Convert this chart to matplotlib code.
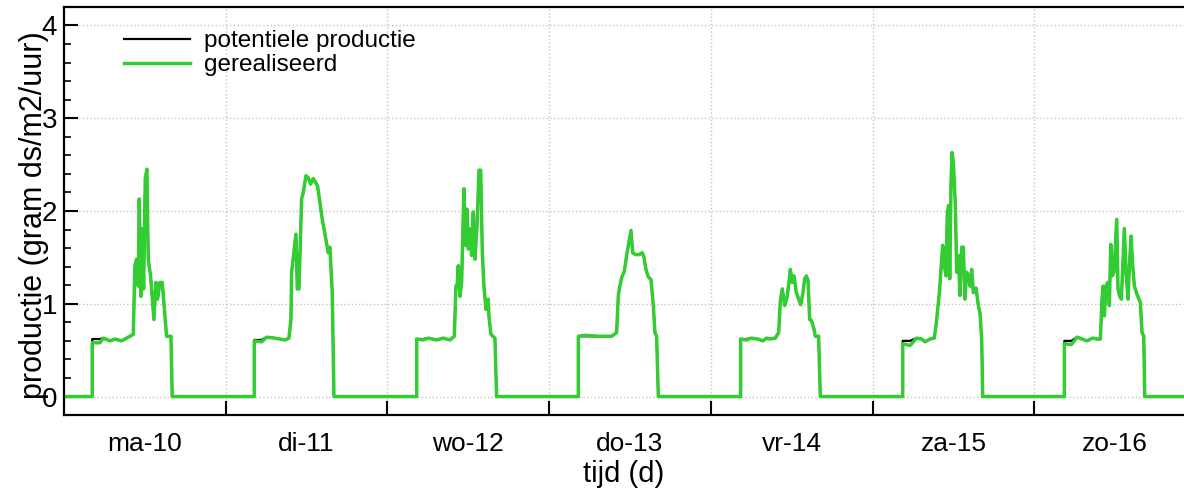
import numpy as np
import matplotlib
matplotlib.use('Agg')
import matplotlib.pyplot as plt
from matplotlib.ticker import MultipleLocator, FixedLocator

plt.rcParams['font.family'] = ['Liberation Sans', 'DejaVu Sans']

# Day labels (one per day, Dutch)
day_labels = ['ma-10', 'di-11', 'wo-12', 'do-13', 'vr-14', 'za-15', 'zo-16']

# Per day: hour of day and realised production (gram ds/m2/uur)
hours_d1 = [4.2, 4.2, 5.34, 5.84, 6.82, 7.57, 8.56, 9.55, 10.29, 10.53, 10.78, 11.03, 11.18, 11.42,
            11.62, 11.82, 12.07, 12.31, 12.51, 12.86, 13.35, 13.65, 13.9, 14.24, 14.59, 15.23, 15.88, 16.07]
real_d1 = [0, 0.58, 0.58, 0.63, 0.60, 0.62, 0.60, 0.64, 0.67, 1.41, 1.48, 1.19, 2.13, 1.08,
           1.81, 1.16, 2.35, 2.45, 1.48, 1.30, 0.83, 1.23, 1.05, 1.23, 1.23, 0.65, 0.65, 0]

hours_d2 = [4.25, 4.25, 5.34, 6.08, 7.31, 8.8, 9.39, 9.69, 9.79, 10.43, 10.63, 10.88, 11.27, 11.52,
            11.92, 12.26, 12.61, 13.0, 13.64, 14.34, 15.23, 15.47, 15.82, 16.07]
real_d2 = [0, 0.60, 0.59, 0.64, 0.63, 0.61, 0.63, 0.83, 1.34, 1.75, 1.16, 1.16, 2.13, 2.20,
           2.38, 2.36, 2.29, 2.35, 2.27, 1.91, 1.55, 1.61, 1.12, 0]

hours_d3 = [4.35, 4.35, 5.33, 6.07, 7.31, 8.3, 9.29, 9.93, 10.18, 10.35, 10.52, 10.77, 11.02, 11.36,
            11.61, 11.81, 12.01, 12.26, 12.5, 12.75, 13.0, 13.3, 13.6, 13.85, 14.09, 14.33, 14.63,
            14.98, 15.07, 15.37, 15.96, 16.21]
real_d3 = [0, 0.62, 0.61, 0.63, 0.61, 0.63, 0.61, 0.65, 1.19, 1.19, 1.41, 1.08, 1.23, 2.24,
           1.63, 2.02, 1.59, 1.81, 1.52, 1.99, 1.48, 1.84, 2.44, 2.44, 1.55, 1.19, 0.94,
           1.05, 0.87, 0.67, 0.63, 0]

hours_d4 = [4.34, 4.34, 5.33, 7.3, 9.28, 10.02, 10.27, 10.42, 10.77, 11.16, 11.51, 11.85, 12.15,
            12.4, 12.84, 13.34, 13.83, 14.08, 14.38, 14.72, 15.12, 15.47, 15.71, 15.96, 16.21]
real_d4 = [0, 0.65, 0.66, 0.65, 0.65, 0.69, 1.08, 1.16, 1.28, 1.35, 1.52, 1.66, 1.79,
           1.55, 1.53, 1.53, 1.55, 1.50, 1.37, 1.29, 1.26, 0.98, 0.69, 0.65, 0]

hours_d5 = [4.43, 4.43, 5.27, 6.01, 7.0, 7.74, 8.24, 8.73, 9.58, 10.07, 10.32, 10.61, 10.96, 11.31,
            11.6, 11.8, 12.1, 12.35, 12.69, 13.04, 13.34, 13.68, 13.93, 14.18, 14.43, 14.67, 14.92,
            15.31, 15.51, 16.0, 16.25]
real_d5 = [0, 0.62, 0.61, 0.63, 0.62, 0.60, 0.63, 0.62, 0.63, 0.69, 1.03, 1.16, 0.98, 1.07,
           1.23, 1.37, 1.23, 1.30, 1.12, 1.05, 0.99, 1.12, 1.27, 1.30, 1.25, 0.83, 0.82,
           0.73, 0.65, 0.65, 0]

hours_d6 = [4.48, 4.48, 5.56, 6.55, 7.29, 7.79, 8.53, 9.17, 9.52, 9.92, 10.16, 10.41, 10.66, 10.91,
            11.1, 11.3, 11.45, 11.65, 11.8, 12.0, 12.29, 12.49, 12.73, 12.98, 13.23, 13.47, 13.72,
            13.97, 14.22, 14.46, 14.71, 14.96, 15.36, 15.7, 15.95, 16.2, 16.35]
real_d6 = [0, 0.57, 0.55, 0.63, 0.62, 0.59, 0.62, 0.63, 0.83, 1.12, 1.37, 1.63, 1.41, 1.30,
           1.99, 2.06, 1.27, 2.31, 2.63, 2.52, 2.06, 1.34, 1.52, 1.09, 1.61, 1.61, 1.05,
           1.34, 1.30, 1.19, 1.37, 1.12, 1.17, 0.98, 0.90, 0.62, 0]

hours_d7 = [4.47, 4.47, 5.51, 6.35, 7.09, 7.83, 8.67, 9.32, 9.81, 10.06, 10.21, 10.41, 10.65, 10.9,
            11.15, 11.35, 11.59, 11.84, 12.24, 12.43, 12.68, 12.93, 13.18, 13.37, 13.62, 13.92,
            14.12, 14.37, 14.61, 14.86, 15.26, 15.75, 16.0, 16.25, 16.4]
real_d7 = [0, 0.57, 0.56, 0.64, 0.62, 0.60, 0.63, 0.62, 0.62, 1.05, 1.19, 0.87, 1.19, 1.23,
           0.98, 1.64, 1.30, 1.34, 1.91, 1.16, 1.08, 1.05, 1.48, 1.81, 1.34, 1.05,
           1.41, 1.73, 1.41, 1.19, 1.10, 1.01, 0.69, 0.65, 0]

# Potential production: same as realised, except a slightly higher level right after lamps on
pot_start = [0.62, 0.61, 0.62, 0.65, 0.62, 0.60, 0.60]

day_hours = [hours_d1, hours_d2, hours_d3, hours_d4, hours_d5, hours_d6, hours_d7]
day_real = [real_d1, real_d2, real_d3, real_d4, real_d5, real_d6, real_d7]

# Build the week series (time in days)
t = [0.0]
real = [0.0]
pot = [0.0]
for d in range(7):
    for i, (h, v) in enumerate(zip(day_hours[d], day_real[d])):
        t.append(d + h / 24.0)
        real.append(v)
        if i in (1, 2):
            pot.append(pot_start[d])
        else:
            pot.append(v)
t.append(7.0)
real.append(0.0)
pot.append(0.0)

fig = plt.figure(figsize=(11.84, 4.93), dpi=100)
ax = fig.add_axes([0.054, 0.158, 0.946, 0.828])

ax.plot(t, pot, color='black', linewidth=1.6, label='potentiele productie')
ax.plot(t, real, color='#33cc33', linewidth=2.5, label='gerealiseerd')

ax.set_xlim(0, 6.926)
ax.set_ylim(-0.2, 4.2)

# x: ticks on day boundaries, labels in the middle of each day
ax.xaxis.set_major_locator(FixedLocator(range(1, 7)))
ax.xaxis.set_minor_locator(FixedLocator([d + 0.5 for d in range(7)]))
ax.set_xticklabels([], minor=False)
ax.set_xticklabels(day_labels, minor=True)
ax.tick_params(axis='x', which='major', direction='in', length=10, width=1.5)
ax.tick_params(axis='x', which='minor', length=0, labelsize=19, pad=12)

ax.yaxis.set_major_locator(MultipleLocator(1))
ax.yaxis.set_minor_locator(MultipleLocator(0.2))
ax.tick_params(axis='y', which='major', direction='in', length=10, width=1.5, labelsize=20, pad=5)
ax.tick_params(axis='y', which='minor', direction='in', length=5, width=1.2)
ax.tick_params(top=False, right=False)

ax.grid(True, which='major', color='#c4c4c4', linestyle=':', linewidth=1.0)

for side in ['left', 'bottom', 'top']:
    ax.spines[side].set_linewidth(1.6)
ax.spines['right'].set_visible(False)

ax.set_xlabel('tijd (d)', fontsize=21, labelpad=3)
ax.set_ylabel('productie (gram ds/m2/uur)', fontsize=22)
ax.yaxis.set_label_coords(-0.027, 0.49)
ax.yaxis.label.set_va('center')

ax.legend(loc='upper left', bbox_to_anchor=(0.034, 0.997), frameon=False, fontsize=17.5,
          handlelength=2.7, handletextpad=0.6, labelspacing=0.1)

fig.savefig('out.png', dpi=100)
